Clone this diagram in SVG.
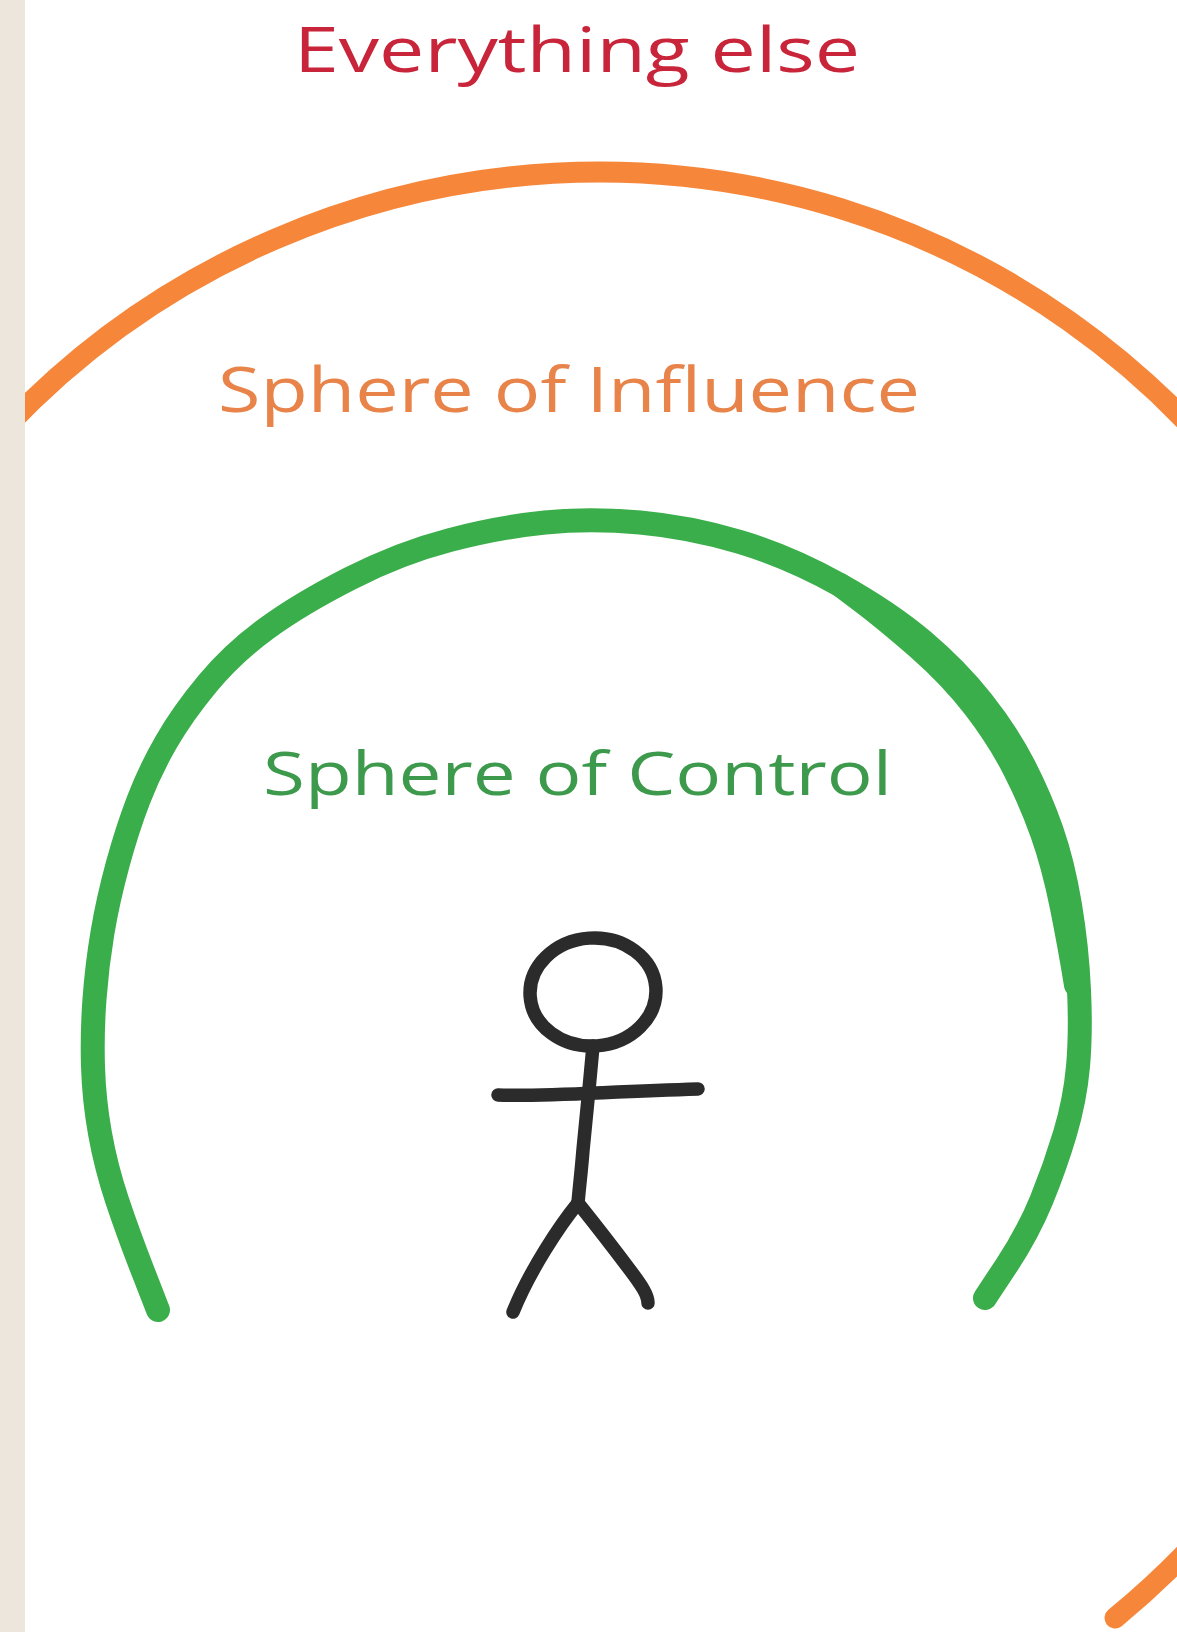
<svg xmlns="http://www.w3.org/2000/svg" width="1177" height="1632" viewBox="0 0 1177 1632">
  <style>
    .lbl { font-family: "Open Sans", "Lato", "Liberation Sans", sans-serif; font-weight: 400; }
    .ink { fill: none; stroke: #2b2b2b; stroke-width: 13.5; stroke-linecap: round; stroke-linejoin: round; }
    .orange { fill: none; stroke: #f6863a; stroke-width: 21; stroke-linecap: round; }
    .green { fill: none; stroke: #3aae4a; stroke-width: 24; stroke-linecap: round; stroke-linejoin: round; }
  </style>
  <rect x="0" y="0" width="1177" height="1632" fill="#ffffff"/>

  <g id="connectors">
    <path id="influence-arc" class="orange" d="M 5 428 A 815 808 0 0 1 600 172 A 815 815 0 0 1 1115 1618"/>
    <g id="control-arc">
      <path class="green" d="M 158 1310 L 143 1271.5 Q 128 1233 117 1200 Q 106 1167 100 1133.5 Q 94 1100 93 1066.5 Q 92 1033 94.5 999 Q 97 965 102.5 932.5 Q 108 900 117.5 865 Q 127 830 138.5 800 Q 150 770 166.5 741.5 Q 183 713 208 683 Q 233 653 266.5 628.5 Q 300 604 350 578.5 Q 400 553 450 540 Q 500 527 545 522.5 Q 590 518 640 522.5 Q 690 527 740 542 Q 790 557 840 585 Q 890 613 923.5 641.5 Q 957 670 982 701.5 Q 1007 733 1023.5 765 Q 1040 797 1051.5 830 Q 1063 863 1070 905 Q 1077 947 1079 990 Q 1081 1033 1078 1066.5 Q 1075 1100 1065 1133.5 Q 1055 1167 1041.5 1200 Q 1028 1233 1006.5 1265.5 L 985 1298"/>
      <path class="green" stroke-width="16" d="M 840 585 L 862.5 602 Q 885 619 917.8 647.5 Q 950.5 676 974.8 707.5 Q 999 739 1015 770.5 Q 1031 802 1042.3 834 Q 1053.6 866 1061.8 907 Q 1070 948 1076 985"/>
    </g>
  </g>

  <g id="label-everything-else">
    <text class="lbl" x="294" y="72" font-size="62" fill="#c8243a" textLength="566" lengthAdjust="spacingAndGlyphs">Everything else</text>
  </g>
  <g id="label-sphere-of-influence">
    <text class="lbl" x="218" y="412" font-size="63" fill="#e8844a" textLength="702" lengthAdjust="spacingAndGlyphs">Sphere of Influence</text>
  </g>
  <g id="label-sphere-of-control">
    <text class="lbl" x="263" y="795" font-size="60" fill="#3d9a4d" textLength="629" lengthAdjust="spacingAndGlyphs">Sphere of Control</text>
  </g>

  <g id="stick-figure">
    <ellipse class="ink" cx="593" cy="992" rx="63" ry="54" transform="rotate(-4 593 992)"/>
    <path class="ink" d="M 593 1046 C 590 1080, 585 1130, 583 1150 C 581 1175, 579 1190, 578 1203"/>
    <path class="ink" d="M 498 1095 C 540 1097, 600 1092, 698 1089"/>
    <path class="ink" d="M 578 1203 C 560 1225, 530 1270, 513 1312"/>
    <path class="ink" d="M 578 1203 C 598 1228, 615 1250, 630 1270 C 642 1286, 648 1295, 648 1303"/>
  </g>

  <rect id="left-margin" x="0" y="0" width="25" height="1632" fill="#ece6dc"/>
</svg>
